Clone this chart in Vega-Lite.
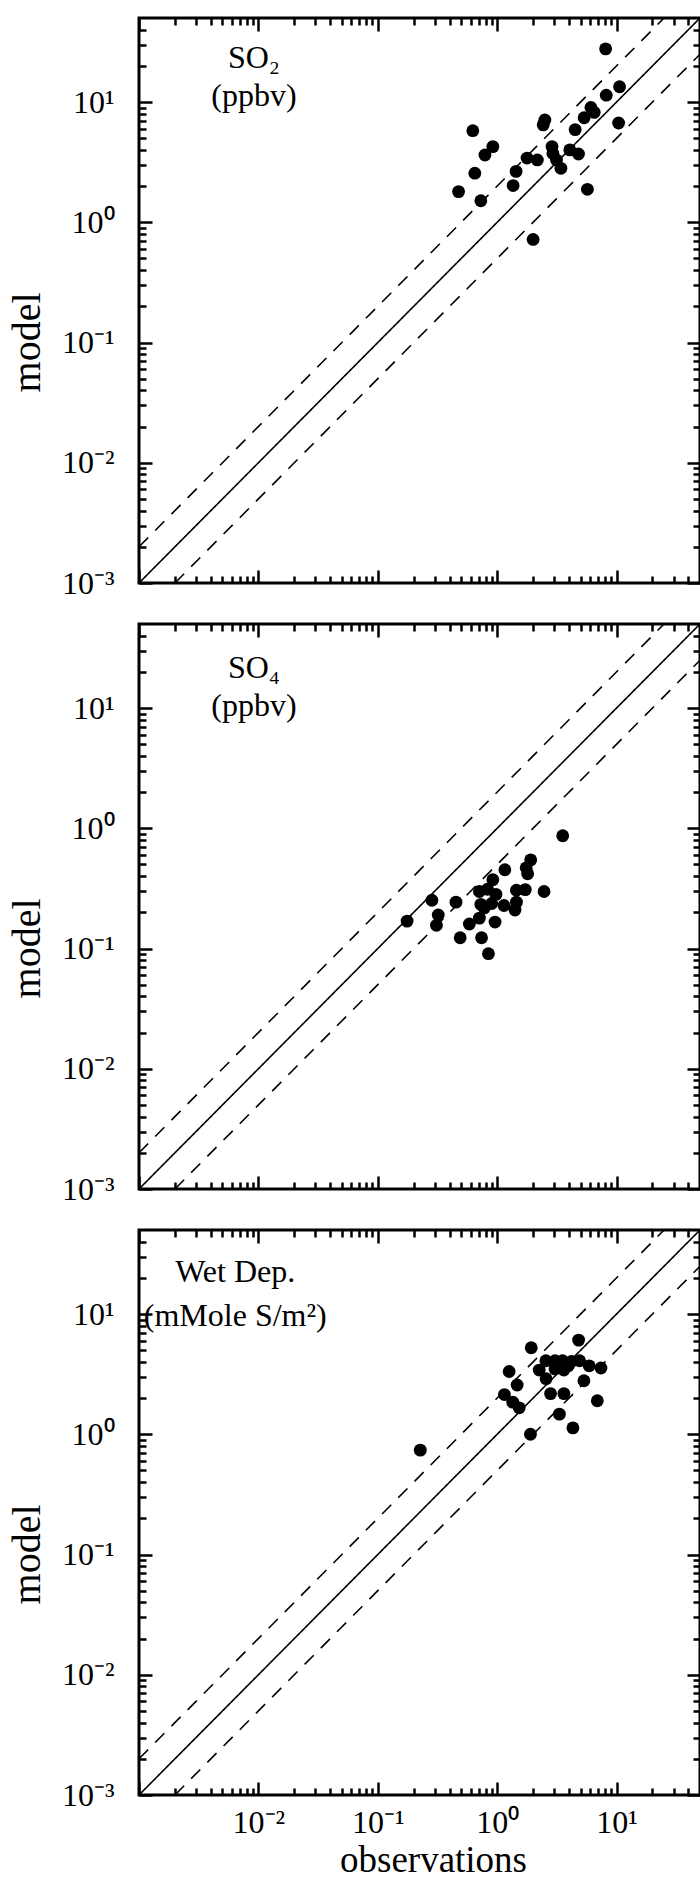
{
  "$schema": "https://vega.github.io/schema/vega-lite/v6.json",
  "background": "white",
  "padding": {"left": 5, "top": 12, "right": 2, "bottom": 0},
  "spacing": 41,
  "bounds": "flush",
  "config": {
    "font": "Liberation Serif",
    "view": {"stroke": "black", "strokeWidth": 3},
    "axis": {
      "domain": false,
      "grid": false,
      "labelFont": "Liberation Serif",
      "labelFontSize": 32,
      "labelColor": "black",
      "titleFont": "Liberation Serif",
      "titleColor": "black",
      "titleFontWeight": "normal",
      "tickColor": "black",
      "tickWidth": 2.5
    },
    "text": {"font": "Liberation Serif", "fontSize": 32, "color": "black"}
  },
  "datasets": {
    "lines": [
      {"line": "1:1", "x": 0.001, "y": 0.001},
      {"line": "1:1", "x": 50, "y": 50},
      {"line": "2:1", "x": 0.001, "y": 0.002},
      {"line": "2:1", "x": 25, "y": 50},
      {"line": "1:2", "x": 0.002, "y": 0.001},
      {"line": "1:2", "x": 50, "y": 25}
    ],
    "labels": [
      {"panel": "SO2", "line": 1, "label": "SO₂"},
      {"panel": "SO2", "line": 2, "label": "(ppbv)"},
      {"panel": "SO4", "line": 1, "label": "SO₄"},
      {"panel": "SO4", "line": 2, "label": "(ppbv)"},
      {"panel": "WetDep", "line": 1, "label": "Wet Dep."},
      {"panel": "WetDep", "line": 2, "label": "(mMole S/m²)"}
    ],
    "points": [
      {"panel": "SO2", "obs": 8.1, "model": 27.7},
      {"panel": "SO2", "obs": 10.6, "model": 13.4},
      {"panel": "SO2", "obs": 8.2, "model": 11.4},
      {"panel": "SO2", "obs": 10.4, "model": 6.7},
      {"panel": "SO2", "obs": 6.1, "model": 9.0},
      {"panel": "SO2", "obs": 6.5, "model": 8.2},
      {"panel": "SO2", "obs": 5.35, "model": 7.4},
      {"panel": "SO2", "obs": 4.5, "model": 5.9},
      {"panel": "SO2", "obs": 4.06, "model": 4.0},
      {"panel": "SO2", "obs": 4.8, "model": 3.7},
      {"panel": "SO2", "obs": 5.7, "model": 1.88},
      {"panel": "SO2", "obs": 2.51, "model": 7.1},
      {"panel": "SO2", "obs": 2.43, "model": 6.46},
      {"panel": "SO2", "obs": 2.88, "model": 4.26},
      {"panel": "SO2", "obs": 2.93, "model": 3.73},
      {"panel": "SO2", "obs": 3.14, "model": 3.3},
      {"panel": "SO2", "obs": 3.42, "model": 2.81},
      {"panel": "SO2", "obs": 2.17, "model": 3.3},
      {"panel": "SO2", "obs": 1.78, "model": 3.42},
      {"panel": "SO2", "obs": 2.0, "model": 0.72},
      {"panel": "SO2", "obs": 1.44, "model": 2.65},
      {"panel": "SO2", "obs": 1.36, "model": 2.02},
      {"panel": "SO2", "obs": 0.625, "model": 5.78},
      {"panel": "SO2", "obs": 0.92, "model": 4.26},
      {"panel": "SO2", "obs": 0.79, "model": 3.63},
      {"panel": "SO2", "obs": 0.65, "model": 2.56},
      {"panel": "SO2", "obs": 0.475, "model": 1.8},
      {"panel": "SO2", "obs": 0.73, "model": 1.51},
      {"panel": "SO4", "obs": 3.54, "model": 0.866},
      {"panel": "SO4", "obs": 1.91, "model": 0.546},
      {"panel": "SO4", "obs": 1.75, "model": 0.469},
      {"panel": "SO4", "obs": 1.8, "model": 0.418},
      {"panel": "SO4", "obs": 1.16, "model": 0.452},
      {"panel": "SO4", "obs": 0.92, "model": 0.373},
      {"panel": "SO4", "obs": 2.47, "model": 0.298},
      {"panel": "SO4", "obs": 1.72, "model": 0.309},
      {"panel": "SO4", "obs": 1.45, "model": 0.305},
      {"panel": "SO4", "obs": 0.71, "model": 0.298},
      {"panel": "SO4", "obs": 0.83, "model": 0.311},
      {"panel": "SO4", "obs": 0.977, "model": 0.282},
      {"panel": "SO4", "obs": 1.45, "model": 0.243},
      {"panel": "SO4", "obs": 0.73, "model": 0.233},
      {"panel": "SO4", "obs": 1.14, "model": 0.228},
      {"panel": "SO4", "obs": 1.41, "model": 0.209},
      {"panel": "SO4", "obs": 0.9, "model": 0.237},
      {"panel": "SO4", "obs": 0.452, "model": 0.243},
      {"panel": "SO4", "obs": 0.284, "model": 0.252},
      {"panel": "SO4", "obs": 0.321, "model": 0.19},
      {"panel": "SO4", "obs": 0.31, "model": 0.156},
      {"panel": "SO4", "obs": 0.176, "model": 0.169},
      {"panel": "SO4", "obs": 0.71, "model": 0.179},
      {"panel": "SO4", "obs": 0.585, "model": 0.16},
      {"panel": "SO4", "obs": 0.96, "model": 0.166},
      {"panel": "SO4", "obs": 0.49, "model": 0.123},
      {"panel": "SO4", "obs": 0.74, "model": 0.123},
      {"panel": "SO4", "obs": 0.845, "model": 0.0906},
      {"panel": "SO4", "obs": 0.78, "model": 0.217},
      {"panel": "WetDep", "obs": 0.227, "model": 0.738},
      {"panel": "WetDep", "obs": 4.81, "model": 6.07},
      {"panel": "WetDep", "obs": 1.93, "model": 5.24},
      {"panel": "WetDep", "obs": 4.9, "model": 4.09},
      {"panel": "WetDep", "obs": 7.4, "model": 3.56},
      {"panel": "WetDep", "obs": 5.9, "model": 3.71},
      {"panel": "WetDep", "obs": 5.33, "model": 2.79},
      {"panel": "WetDep", "obs": 6.9, "model": 1.9},
      {"panel": "WetDep", "obs": 4.31, "model": 1.13},
      {"panel": "WetDep", "obs": 3.32, "model": 1.47},
      {"panel": "WetDep", "obs": 3.62, "model": 2.18},
      {"panel": "WetDep", "obs": 2.8, "model": 2.18},
      {"panel": "WetDep", "obs": 1.9, "model": 1.0},
      {"panel": "WetDep", "obs": 2.56, "model": 4.09},
      {"panel": "WetDep", "obs": 3.05, "model": 4.09},
      {"panel": "WetDep", "obs": 3.53, "model": 4.09},
      {"panel": "WetDep", "obs": 2.25, "model": 3.42},
      {"panel": "WetDep", "obs": 2.57, "model": 2.9},
      {"panel": "WetDep", "obs": 3.05, "model": 3.5},
      {"panel": "WetDep", "obs": 3.62, "model": 3.42},
      {"panel": "WetDep", "obs": 3.95, "model": 3.71},
      {"panel": "WetDep", "obs": 1.26, "model": 3.33},
      {"panel": "WetDep", "obs": 1.47, "model": 2.57},
      {"panel": "WetDep", "obs": 1.15, "model": 2.14},
      {"panel": "WetDep", "obs": 1.35, "model": 1.85},
      {"panel": "WetDep", "obs": 1.53, "model": 1.66},
      {"panel": "WetDep", "obs": 4.19, "model": 4.03}
    ]
  },
  "vconcat": [
    {
      "width": 561,
      "height": 565,
      "layer": [
        {
          "data": {"name": "lines"},
          "mark": {"type": "line", "color": "black", "strokeWidth": 1.6, "clip": true},
          "encoding": {
            "x": {"field": "x", "type": "quantitative", "scale": {"type": "log", "domain": [0.001, 50], "nice": false},
              "axis": {"orient": "bottom", "values": [0.001,0.002,0.003,0.004,0.005,0.006,0.007,0.008,0.009,0.01,0.02,0.03,0.04,0.05,0.06,0.07,0.08,0.09,0.1,0.2,0.3,0.4,0.5,0.6,0.7,0.8,0.9,1,2,3,4,5,6,7,8,9,10,20,30,40],
                "tickSize": {"condition": {"test": "abs(log(datum.value)/LN10 - round(log(datum.value)/LN10)) < 0.000001", "value": -13}, "value": -7},
                "labels": false, "title": null}},
            "y": {"field": "y", "type": "quantitative", "scale": {"type": "log", "domain": [0.001, 50], "nice": false},
              "axis": {"orient": "left", "values": [0.001,0.002,0.003,0.004,0.005,0.006,0.007,0.008,0.009,0.01,0.02,0.03,0.04,0.05,0.06,0.07,0.08,0.09,0.1,0.2,0.3,0.4,0.5,0.6,0.7,0.8,0.9,1,2,3,4,5,6,7,8,9,10,20,30,40],
                "tickSize": {"condition": {"test": "abs(log(datum.value)/LN10 - round(log(datum.value)/LN10)) < 0.000001", "value": -13}, "value": -7},
                "labelExpr": "datum.value == 0.001 ? '10⁻³' : datum.value == 0.01 ? '10⁻²' : datum.value == 0.1 ? '10⁻¹' : datum.value == 1 ? '10⁰' : datum.value == 10 ? '10¹' : ''",
                "labelPadding": 38, "labelFlush": false, "labelOverlap": false,
                "title": "model", "titleFontSize": 40, "titleX": -100, "titleY": 324, "titleAngle": -90, "titleAlign": "center", "titleBaseline": "alphabetic"}},
            "strokeDash": {"field": "line", "type": "nominal", "scale": {"domain": ["1:1", "2:1", "1:2"], "range": [[1, 0], [13, 10], [13, 10]]}, "legend": null}
          }
        },
        {
          "data": {"name": "points"},
          "transform": [{"filter": "datum.panel == 'SO2'"}],
          "mark": {"type": "circle", "size": 165, "color": "black", "opacity": 1},
          "encoding": {
            "x": {"field": "obs", "type": "quantitative", "axis": null},
            "y": {"field": "model", "type": "quantitative", "axis": null}
          }
        },
        {
          "data": {"name": "labels"},
          "transform": [{"filter": "datum.panel == 'SO2' && datum.line == 1"}],
          "mark": {"type": "text", "align": "center", "baseline": "middle"},
          "encoding": {
            "x": {"datum": 0.00918, "type": "quantitative", "axis": null},
            "y": {"datum": 23.2, "type": "quantitative", "axis": null},
            "text": {"field": "label"}
          }
        },
        {
          "data": {"name": "labels"},
          "transform": [{"filter": "datum.panel == 'SO2' && datum.line == 2"}],
          "mark": {"type": "text", "align": "center", "baseline": "middle"},
          "encoding": {
            "x": {"datum": 0.00918, "type": "quantitative", "axis": null},
            "y": {"datum": 11.2, "type": "quantitative", "axis": null},
            "text": {"field": "label"}
          }
        },
        {
          "data": {"name": "lines"},
          "mark": {"type": "line", "opacity": 0},
          "encoding": {
            "x": {"field": "x", "type": "quantitative",
              "axis": {"orient": "top", "values": [0.001,0.002,0.003,0.004,0.005,0.006,0.007,0.008,0.009,0.01,0.02,0.03,0.04,0.05,0.06,0.07,0.08,0.09,0.1,0.2,0.3,0.4,0.5,0.6,0.7,0.8,0.9,1,2,3,4,5,6,7,8,9,10,20,30,40],
                "tickSize": {"condition": {"test": "abs(log(datum.value)/LN10 - round(log(datum.value)/LN10)) < 0.000001", "value": -13}, "value": -7},
                "labels": false, "title": null}},
            "y": {"field": "y", "type": "quantitative",
              "axis": {"orient": "right", "values": [0.001,0.002,0.003,0.004,0.005,0.006,0.007,0.008,0.009,0.01,0.02,0.03,0.04,0.05,0.06,0.07,0.08,0.09,0.1,0.2,0.3,0.4,0.5,0.6,0.7,0.8,0.9,1,2,3,4,5,6,7,8,9,10,20,30,40],
                "tickSize": {"condition": {"test": "abs(log(datum.value)/LN10 - round(log(datum.value)/LN10)) < 0.000001", "value": -13}, "value": -7},
                "labels": false, "title": null}}
          }
        }
      ],
      "resolve": {"axis": {"x": "independent", "y": "independent"}}
    },
    {
      "width": 561,
      "height": 565,
      "layer": [
        {
          "data": {"name": "lines"},
          "mark": {"type": "line", "color": "black", "strokeWidth": 1.6, "clip": true},
          "encoding": {
            "x": {"field": "x", "type": "quantitative", "scale": {"type": "log", "domain": [0.001, 50], "nice": false},
              "axis": {"orient": "bottom", "values": [0.001,0.002,0.003,0.004,0.005,0.006,0.007,0.008,0.009,0.01,0.02,0.03,0.04,0.05,0.06,0.07,0.08,0.09,0.1,0.2,0.3,0.4,0.5,0.6,0.7,0.8,0.9,1,2,3,4,5,6,7,8,9,10,20,30,40],
                "tickSize": {"condition": {"test": "abs(log(datum.value)/LN10 - round(log(datum.value)/LN10)) < 0.000001", "value": -13}, "value": -7},
                "labels": false, "title": null}},
            "y": {"field": "y", "type": "quantitative", "scale": {"type": "log", "domain": [0.001, 50], "nice": false},
              "axis": {"orient": "left", "values": [0.001,0.002,0.003,0.004,0.005,0.006,0.007,0.008,0.009,0.01,0.02,0.03,0.04,0.05,0.06,0.07,0.08,0.09,0.1,0.2,0.3,0.4,0.5,0.6,0.7,0.8,0.9,1,2,3,4,5,6,7,8,9,10,20,30,40],
                "tickSize": {"condition": {"test": "abs(log(datum.value)/LN10 - round(log(datum.value)/LN10)) < 0.000001", "value": -13}, "value": -7},
                "labelExpr": "datum.value == 0.001 ? '10⁻³' : datum.value == 0.01 ? '10⁻²' : datum.value == 0.1 ? '10⁻¹' : datum.value == 1 ? '10⁰' : datum.value == 10 ? '10¹' : ''",
                "labelPadding": 38, "labelFlush": false, "labelOverlap": false,
                "title": "model", "titleFontSize": 40, "titleX": -100, "titleY": 324, "titleAngle": -90, "titleAlign": "center", "titleBaseline": "alphabetic"}},
            "strokeDash": {"field": "line", "type": "nominal", "scale": {"domain": ["1:1", "2:1", "1:2"], "range": [[1, 0], [13, 10], [13, 10]]}, "legend": null}
          }
        },
        {
          "data": {"name": "points"},
          "transform": [{"filter": "datum.panel == 'SO4'"}],
          "mark": {"type": "circle", "size": 165, "color": "black", "opacity": 1},
          "encoding": {
            "x": {"field": "obs", "type": "quantitative", "axis": null},
            "y": {"field": "model", "type": "quantitative", "axis": null}
          }
        },
        {
          "data": {"name": "labels"},
          "transform": [{"filter": "datum.panel == 'SO4' && datum.line == 1"}],
          "mark": {"type": "text", "align": "center", "baseline": "middle"},
          "encoding": {
            "x": {"datum": 0.00918, "type": "quantitative", "axis": null},
            "y": {"datum": 21.5, "type": "quantitative", "axis": null},
            "text": {"field": "label"}
          }
        },
        {
          "data": {"name": "labels"},
          "transform": [{"filter": "datum.panel == 'SO4' && datum.line == 2"}],
          "mark": {"type": "text", "align": "center", "baseline": "middle"},
          "encoding": {
            "x": {"datum": 0.00918, "type": "quantitative", "axis": null},
            "y": {"datum": 10.4, "type": "quantitative", "axis": null},
            "text": {"field": "label"}
          }
        },
        {
          "data": {"name": "lines"},
          "mark": {"type": "line", "opacity": 0},
          "encoding": {
            "x": {"field": "x", "type": "quantitative",
              "axis": {"orient": "top", "values": [0.001,0.002,0.003,0.004,0.005,0.006,0.007,0.008,0.009,0.01,0.02,0.03,0.04,0.05,0.06,0.07,0.08,0.09,0.1,0.2,0.3,0.4,0.5,0.6,0.7,0.8,0.9,1,2,3,4,5,6,7,8,9,10,20,30,40],
                "tickSize": {"condition": {"test": "abs(log(datum.value)/LN10 - round(log(datum.value)/LN10)) < 0.000001", "value": -13}, "value": -7},
                "labels": false, "title": null}},
            "y": {"field": "y", "type": "quantitative",
              "axis": {"orient": "right", "values": [0.001,0.002,0.003,0.004,0.005,0.006,0.007,0.008,0.009,0.01,0.02,0.03,0.04,0.05,0.06,0.07,0.08,0.09,0.1,0.2,0.3,0.4,0.5,0.6,0.7,0.8,0.9,1,2,3,4,5,6,7,8,9,10,20,30,40],
                "tickSize": {"condition": {"test": "abs(log(datum.value)/LN10 - round(log(datum.value)/LN10)) < 0.000001", "value": -13}, "value": -7},
                "labels": false, "title": null}}
          }
        }
      ],
      "resolve": {"axis": {"x": "independent", "y": "independent"}}
    },
    {
      "width": 561,
      "height": 565,
      "layer": [
        {
          "data": {"name": "lines"},
          "mark": {"type": "line", "color": "black", "strokeWidth": 1.6, "clip": true},
          "encoding": {
            "x": {"field": "x", "type": "quantitative", "scale": {"type": "log", "domain": [0.001, 50], "nice": false},
              "axis": {"orient": "bottom", "values": [0.001,0.002,0.003,0.004,0.005,0.006,0.007,0.008,0.009,0.01,0.02,0.03,0.04,0.05,0.06,0.07,0.08,0.09,0.1,0.2,0.3,0.4,0.5,0.6,0.7,0.8,0.9,1,2,3,4,5,6,7,8,9,10,20,30,40],
                "tickSize": {"condition": {"test": "abs(log(datum.value)/LN10 - round(log(datum.value)/LN10)) < 0.000001", "value": -13}, "value": -7},
                "labelExpr": "datum.value == 0.01 ? '10⁻²' : datum.value == 0.1 ? '10⁻¹' : datum.value == 1 ? '10⁰' : datum.value == 10 ? '10¹' : ''",
                "labelPadding": 50, "labelBaseline": "alphabetic", "labelFlush": false, "labelOverlap": false,
                "title": "observations", "titleFontSize": 37, "titleX": 294, "titleY": 76, "titleAlign": "center", "titleBaseline": "alphabetic"}},
            "y": {"field": "y", "type": "quantitative", "scale": {"type": "log", "domain": [0.001, 50], "nice": false},
              "axis": {"orient": "left", "values": [0.001,0.002,0.003,0.004,0.005,0.006,0.007,0.008,0.009,0.01,0.02,0.03,0.04,0.05,0.06,0.07,0.08,0.09,0.1,0.2,0.3,0.4,0.5,0.6,0.7,0.8,0.9,1,2,3,4,5,6,7,8,9,10,20,30,40],
                "tickSize": {"condition": {"test": "abs(log(datum.value)/LN10 - round(log(datum.value)/LN10)) < 0.000001", "value": -13}, "value": -7},
                "labelExpr": "datum.value == 0.001 ? '10⁻³' : datum.value == 0.01 ? '10⁻²' : datum.value == 0.1 ? '10⁻¹' : datum.value == 1 ? '10⁰' : datum.value == 10 ? '10¹' : ''",
                "labelPadding": 38, "labelFlush": false, "labelOverlap": false,
                "title": "model", "titleFontSize": 40, "titleX": -100, "titleY": 324, "titleAngle": -90, "titleAlign": "center", "titleBaseline": "alphabetic"}},
            "strokeDash": {"field": "line", "type": "nominal", "scale": {"domain": ["1:1", "2:1", "1:2"], "range": [[1, 0], [13, 10], [13, 10]]}, "legend": null}
          }
        },
        {
          "data": {"name": "points"},
          "transform": [{"filter": "datum.panel == 'WetDep'"}],
          "mark": {"type": "circle", "size": 165, "color": "black", "opacity": 1},
          "encoding": {
            "x": {"field": "obs", "type": "quantitative", "axis": null},
            "y": {"field": "model", "type": "quantitative", "axis": null}
          }
        },
        {
          "data": {"name": "labels"},
          "transform": [{"filter": "datum.panel == 'WetDep' && datum.line == 1"}],
          "mark": {"type": "text", "align": "center", "baseline": "middle"},
          "encoding": {
            "x": {"datum": 0.0064, "type": "quantitative", "axis": null},
            "y": {"datum": 22.4, "type": "quantitative", "axis": null},
            "text": {"field": "label"}
          }
        },
        {
          "data": {"name": "labels"},
          "transform": [{"filter": "datum.panel == 'WetDep' && datum.line == 2"}],
          "mark": {"type": "text", "align": "center", "baseline": "middle"},
          "encoding": {
            "x": {"datum": 0.0064, "type": "quantitative", "axis": null},
            "y": {"datum": 9.6, "type": "quantitative", "axis": null},
            "text": {"field": "label"}
          }
        },
        {
          "data": {"name": "lines"},
          "mark": {"type": "line", "opacity": 0},
          "encoding": {
            "x": {"field": "x", "type": "quantitative",
              "axis": {"orient": "top", "values": [0.001,0.002,0.003,0.004,0.005,0.006,0.007,0.008,0.009,0.01,0.02,0.03,0.04,0.05,0.06,0.07,0.08,0.09,0.1,0.2,0.3,0.4,0.5,0.6,0.7,0.8,0.9,1,2,3,4,5,6,7,8,9,10,20,30,40],
                "tickSize": {"condition": {"test": "abs(log(datum.value)/LN10 - round(log(datum.value)/LN10)) < 0.000001", "value": -13}, "value": -7},
                "labels": false, "title": null}},
            "y": {"field": "y", "type": "quantitative",
              "axis": {"orient": "right", "values": [0.001,0.002,0.003,0.004,0.005,0.006,0.007,0.008,0.009,0.01,0.02,0.03,0.04,0.05,0.06,0.07,0.08,0.09,0.1,0.2,0.3,0.4,0.5,0.6,0.7,0.8,0.9,1,2,3,4,5,6,7,8,9,10,20,30,40],
                "tickSize": {"condition": {"test": "abs(log(datum.value)/LN10 - round(log(datum.value)/LN10)) < 0.000001", "value": -13}, "value": -7},
                "labels": false, "title": null}}
          }
        }
      ],
      "resolve": {"axis": {"x": "independent", "y": "independent"}}
    }
  ]
}
